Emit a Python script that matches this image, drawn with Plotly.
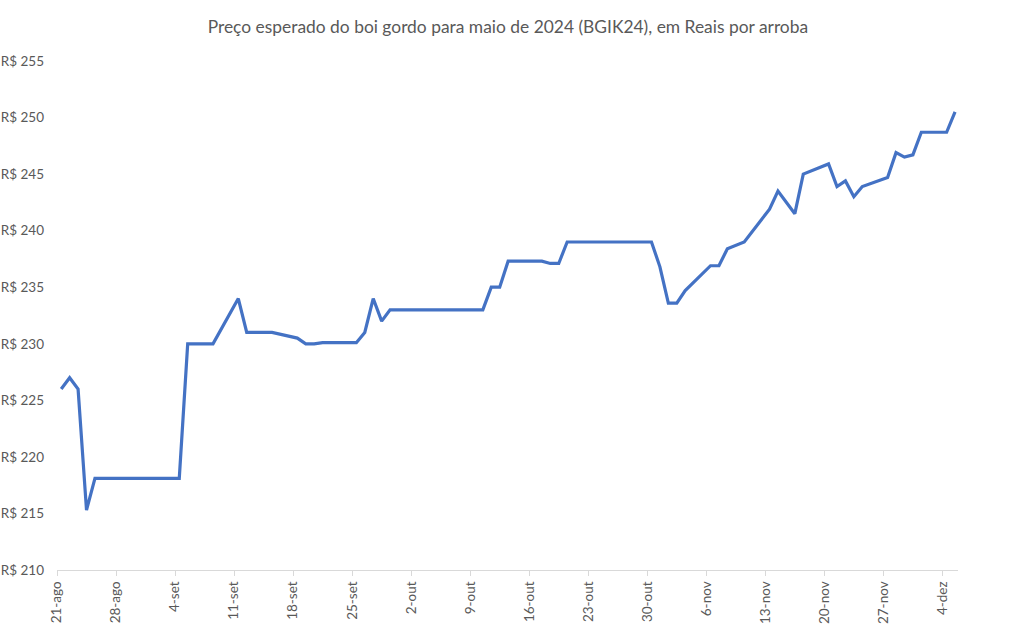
import pandas as pd
import plotly.graph_objects as go

dates = [
    "2023-08-21", "2023-08-22", "2023-08-23", "2023-08-24", "2023-08-25",
    "2023-08-28", "2023-08-29", "2023-08-30", "2023-08-31", "2023-09-01",
    "2023-09-04", "2023-09-05", "2023-09-06", "2023-09-08",
    "2023-09-11", "2023-09-12", "2023-09-13", "2023-09-14", "2023-09-15",
    "2023-09-18", "2023-09-19", "2023-09-20", "2023-09-21", "2023-09-22",
    "2023-09-25", "2023-09-26", "2023-09-27", "2023-09-28", "2023-09-29",
    "2023-10-02", "2023-10-03", "2023-10-04", "2023-10-05", "2023-10-06",
    "2023-10-09", "2023-10-10", "2023-10-11", "2023-10-12", "2023-10-13",
    "2023-10-16", "2023-10-17", "2023-10-18", "2023-10-19", "2023-10-20",
    "2023-10-23", "2023-10-24", "2023-10-25", "2023-10-26", "2023-10-27",
    "2023-10-30", "2023-10-31", "2023-11-01", "2023-11-02", "2023-11-03",
    "2023-11-06", "2023-11-07", "2023-11-08", "2023-11-09", "2023-11-10",
    "2023-11-13", "2023-11-14", "2023-11-16", "2023-11-17",
    "2023-11-20", "2023-11-21", "2023-11-22", "2023-11-23", "2023-11-24",
    "2023-11-27", "2023-11-28", "2023-11-29", "2023-11-30", "2023-12-01",
    "2023-12-04", "2023-12-05",
]
prices = [
    226.0, 227.0, 226.0, 215.3, 218.1,
    218.1, 218.1, 218.1, 218.1, 218.1,
    218.1, 230.0, 230.0, 230.0,
    234.0, 231.0, 231.0, 231.0, 231.0,
    230.5, 230.0, 230.0, 230.1, 230.1,
    230.1, 231.0, 234.0, 232.0, 233.0,
    233.0, 233.0, 233.0, 233.0, 233.0,
    233.0, 233.0, 235.0, 235.0, 237.3,
    237.3, 237.3, 237.1, 237.1, 239.0,
    239.0, 239.0, 239.0, 239.0, 239.0,
    239.0, 236.8, 233.6, 233.6, 234.7,
    236.9, 236.9, 238.4, 238.7, 239.0,
    241.9, 243.5, 241.5, 245.0,
    245.9, 243.9, 244.4, 243.0, 243.9,
    244.7, 246.9, 246.5, 246.7, 248.7,
    248.7, 250.5,
]
tick_dates = [
    "2023-08-21", "2023-08-28", "2023-09-04", "2023-09-11", "2023-09-18",
    "2023-09-25", "2023-10-02", "2023-10-09", "2023-10-16", "2023-10-23",
    "2023-10-30", "2023-11-06", "2023-11-13", "2023-11-20", "2023-11-27",
    "2023-12-04",
]
tick_labels = [
    "21-ago", "28-ago", "4-set", "11-set", "18-set", "25-set", "2-out", "9-out",
    "16-out", "23-out", "30-out", "6-nov", "13-nov", "20-nov", "27-nov", "4-dez",
]

# Excel date axis: points sit in the middle of each day
x = pd.to_datetime(dates) + pd.Timedelta(hours=12)
x_start = pd.Timestamp("2023-08-21")
x_end = x_start + pd.Timedelta(days=106.85)

font_family = "Lato, Carlito, 'Open Sans', sans-serif"
grey = "#595959"

fig = go.Figure()
fig.add_trace(go.Scatter(
    x=x, y=prices, mode="lines",
    line=dict(color="#4472C4", width=3.2),
    hoverinfo="x+y",
))

fig.update_layout(
    width=1024, height=638,
    margin=dict(l=57, r=66, t=61, b=68),
    paper_bgcolor="white", plot_bgcolor="white",
    showlegend=False,
    title=dict(
        text="Preço esperado do boi gordo para maio de 2024 (BGIK24), em Reais por arroba",
        x=0.496, xanchor="center", y=0.958, yanchor="middle",
        font=dict(family=font_family, size=17.4, color=grey),
    ),
    font=dict(family=font_family, color=grey),
)
fig.update_xaxes(
    type="date",
    range=[x_start, x_end],
    tickvals=pd.to_datetime(tick_dates),
    ticktext=tick_labels,
    tickangle=-90,
    tickfont=dict(size=13.5, color=grey),
    showgrid=False, zeroline=False,
    showline=True, linecolor="#d9d9d9", linewidth=1,
    ticks="outside", ticklen=5, tickcolor="#d9d9d9",
    automargin=False,
)
fig.update_yaxes(
    range=[210, 255],
    dtick=5, tick0=210,
    tickprefix="R$ ",
    tickfont=dict(size=13.5, color=grey),
    showgrid=False, zeroline=False, showline=False,
    ticks="",
    ticklabelstandoff=12,
    automargin=False,
)

fig.write_html("out.html")
